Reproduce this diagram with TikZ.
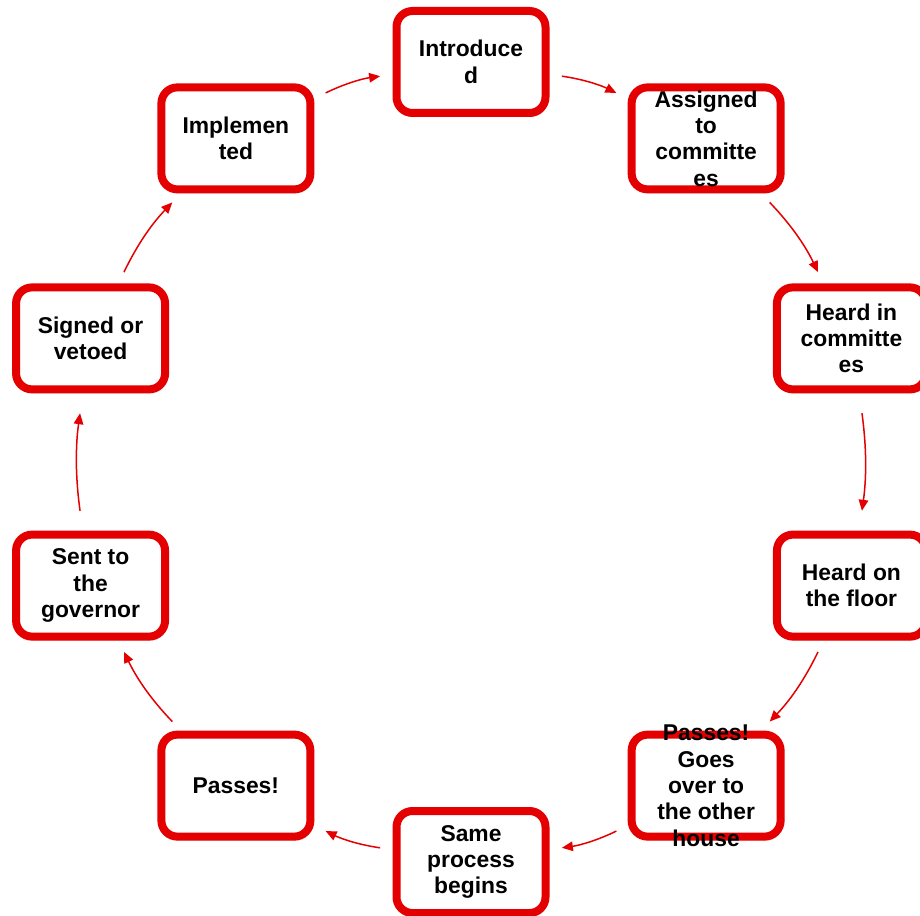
\documentclass[tikz,border=0pt]{standalone}
\usepackage{fontspec}
\setmainfont{Liberation Sans}
\usepackage{tikz}
\usetikzlibrary{arrows.meta, shadows}

\definecolor{billred}{RGB}{228,0,0}

\tikzset{
	stepbox/.style = {draw = billred, line width = 0.16cm, fill = white, rounded corners = 0.32cm,
		minimum width = 2.98cm, minimum height = 2.04cm,
		drop shadow = {opacity = 0.2, shadow xshift = 0.04cm, shadow yshift = -0.08cm}},
	steptext/.style = {align = center, text = black, font = \fontsize{13}{15}\selectfont\bfseries},
	flow/.style = {-{Triangle[length = 0.22cm, width = 0.19cm]}, draw = billred, line width = 0.03cm,
		shorten <= 0.25cm, shorten >= 0.25cm}
}

\begin{document}
\begin{tikzpicture}
	\useasboundingbox (-9.42,-9.06) rectangle (8.98,9.24);
	\clip (-9.42,-9.06) rectangle (8.98,9.24);

	% the steps, clockwise from the top
	\node [stepbox, label = {[steptext]center:{Introduce\\d}}] (introduced) at (90:8) {};
	\node [stepbox, label = {[steptext]center:{Assigned\\to\\committe\\es}}] (assigned) at (54:8) {};
	\node [stepbox, label = {[steptext]center:{Heard in\\committe\\es}}] (heardcomm) at (18:8) {};
	\node [stepbox, label = {[steptext]center:{Heard on\\the floor}}] (heardfloor) at (-18:8) {};
	\node [stepbox, label = {[steptext]center:{Passes!\\Goes\\over to\\the other\\house}}] (passesone) at (-54:8) {};
	\node [stepbox, label = {[steptext]center:{Same\\process\\begins}}] (sameprocess) at (-90:8) {};
	\node [stepbox, label = {[steptext]center:{Passes!}}] (passestwo) at (-126:8) {};
	\node [stepbox, label = {[steptext]center:{Sent to\\the\\governor}}] (governor) at (-162:8) {};
	\node [stepbox, label = {[steptext]center:{Signed or\\vetoed}}] (signed) at (162:8) {};
	\node [stepbox, label = {[steptext]center:{Implemen\\ted}}] (implemented) at (126:8) {};

	% arrows
	\draw [flow] (introduced) to [bend left = 9] (assigned);
	\draw [flow] (assigned) to [bend left = 9] (heardcomm);
	\draw [flow, shorten <= 0.4cm, shorten >= 0.4cm] (heardcomm) to [bend left = 8] (heardfloor);
	\draw [flow] (heardfloor) to [bend left = 9] (passesone);
	\draw [flow] (passesone) to [bend left = 9] (sameprocess);
	\draw [flow] (sameprocess) to [bend left = 9] (passestwo);
	\draw [flow] (passestwo) to [bend left = 9] (governor);
	\draw [flow, shorten <= 0.4cm, shorten >= 0.4cm] (governor) to [bend left = 8] (signed);
	\draw [flow] (signed) to [bend left = 9] (implemented);
	\draw [flow] (implemented) to [bend left = 9] (introduced);
\end{tikzpicture}
\end{document}
